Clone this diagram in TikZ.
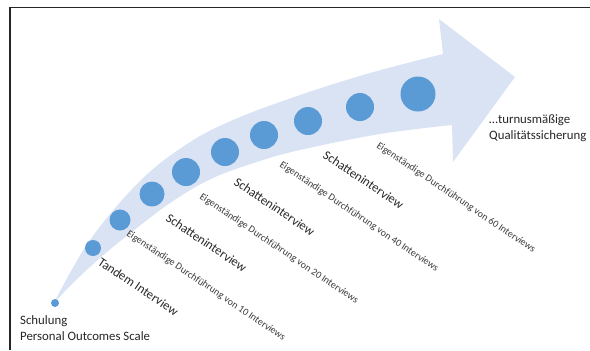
\documentclass[tikz,border=0pt]{standalone}
\usepackage{fontspec}
\setmainfont{Carlito}
\definecolor{bandblue}{HTML}{DAE3F3}
\definecolor{dotblue}{HTML}{5B9BD5}
\definecolor{txt}{HTML}{262626}
\definecolor{txtsmall}{HTML}{3A3A3A}
\begin{document}
\begin{tikzpicture}[x=1bp,y=-1bp,
  dot/.style={circle,fill=dotblue,inner sep=0pt,minimum size=#1},
  biglabel/.style={inner sep=0pt,anchor=base west,rotate=-34,text=txt,font=\fontsize{12.8bp}{15bp}\selectfont},
  smalllabel/.style={inner sep=0pt,anchor=base west,rotate=-34,text=txtsmall,font=\fontsize{10bp}{12bp}\selectfont},
  plainlabel/.style={inner sep=0pt,anchor=base west,align=left,text=txt,font=\fontsize{12.8bp}{15.5bp}\selectfont}]
\useasboundingbox (0,0) rectangle (590,350);
% frame
\draw[line width=1.3bp,black!85] (10,350) -- (10,7.5) -- (590,7.5);
% curved arrow band
\fill[bandblue]
  plot[smooth,tension=0.6] coordinates {(55,301) (90,240) (140,181) (187,144) (233,120) (300,95) (370,73) (443,54)}
  -- (439,19) -- (515,77) -- (453,162) -- (452,125)
  -- plot[smooth,tension=0.6] coordinates {(452,125) (380,134) (300,150) (260,161) (213,178) (173,201) (133,231) (100,258) (72,284) (55,302)}
  -- cycle;
% milestone dots
\node[dot=8bp]  (d0) at (55,303) {};
\node[dot=16bp] (d1) at (93,248) {};
\node[dot=21bp] (d2) at (120,220) {};
\node[dot=25bp] (d3) at (152,194) {};
\node[dot=28bp] (d4) at (186,172) {};
\node[dot=28bp] (d5) at (225,152) {};
\node[dot=28bp] (d6) at (264,135) {};
\node[dot=28bp] (d7) at (308,121) {};
\node[dot=28bp] (d8) at (360,107) {};
\node[dot=35bp] (d9) at (418,94) {};
% labels (base anchor of a two-line node sits on its last line)
\node[plainlabel] (start) at (20,340) {Schulung\\Personal Outcomes Scale};
\node[plainlabel] (goal) at (489,139) {…turnusmäßige\\Qualitätssicherung};
\node[biglabel] (l1) at (97,264) {Tandem Interview};
\node[biglabel] (l2) at (165,220) {Schatteninterview};
\node[biglabel] (l3) at (233,184) {Schatteninterview};
\node[biglabel] (l4) at (322,157) {Schatteninterview};
\node[smalllabel] (s1) at (126,235) {Eigenständige Durchführung von 10 Interviews};
\node[smalllabel] (s2) at (199,198) {Eigenständige Durchführung von 20 Interviews};
\node[smalllabel] (s3) at (279,166) {Eigenständige Durchführung von 40 Interviews};
\node[smalllabel] (s4) at (376,147) {Eigenständige Durchführung von 60 Interviews};
\end{tikzpicture}
\end{document}
